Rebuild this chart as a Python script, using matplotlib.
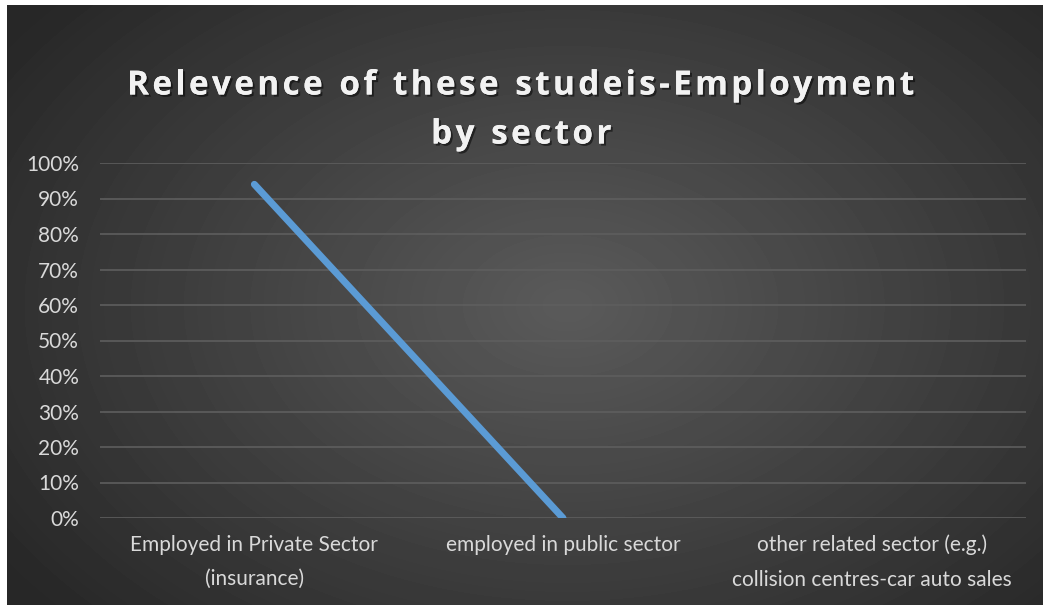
import numpy as np
import matplotlib.pyplot as plt
import matplotlib.patheffects as pe
from matplotlib.ticker import PercentFormatter

# данные
categories = ["Employed in Private Sector\n(insurance)",
              "employed in public sector",
              "other related sector (e.g.)\ncollision centres-car auto sales"]
share = [0.94, 0.0, np.nan]
y_ticks = [i / 10 for i in range(11)]

W, H = 1043, 605
fig = plt.figure(figsize=(W / 100, H / 100), dpi=100, facecolor="white")

# фон: радиальный градиент, белая полоска сверху и слева как в оригинале
bg = fig.add_axes([7 / W, 0, 1 - 7 / W, 1 - 5 / H])
bg.set_axis_off()
yy, xx = np.mgrid[0:600, 0:1036]
r = np.sqrt(((xx - 560) / 680.0) ** 2 + ((yy - 300) / 460.0) ** 2)
shade = 0.355 - 0.2 * np.clip(r, 0, 1)
bg.imshow(shade, cmap="gray", vmin=0, vmax=1, aspect="auto",
          extent=[0, 1, 0, 1], interpolation="bilinear")
bg.set_xlim(0, 1)
bg.set_ylim(0, 1)

ax = fig.add_axes([100 / W, 1 - 518 / H, 926 / W, 355 / H])
ax.patch.set_alpha(0)
x = np.arange(len(categories))
ax.plot(x, share, color="#5B9BD5", lw=5, solid_capstyle="round")

ax.set_xlim(-0.5, len(categories) - 0.5)
ax.set_ylim(0, 1)
ax.set_yticks(y_ticks)
ax.yaxis.set_major_formatter(PercentFormatter(1.0, decimals=0))
ax.set_xticks(x)
ax.set_xticklabels(categories)
ax.grid(axis="y", color="#5e5e5e", lw=1.2)
ax.set_axisbelow(True)
for s in ax.spines.values():
    s.set_visible(False)
ax.tick_params(length=0, colors="#d9d9d9", labelsize=15)
ax.tick_params(axis="y", pad=15)
ax.tick_params(axis="x", pad=12)
for lab in ax.get_xticklabels() + ax.get_yticklabels():
    lab.set_family(["Lato", "DejaVu Sans"])
    lab.set_linespacing(1.9)

shadow = [pe.withSimplePatchShadow(offset=(1.5, -1.5), shadow_rgbFace="black", alpha=0.5),
          pe.Normal()]
title_font = dict(ha="center", va="center", color="#f2f2f2", fontsize=24,
                  fontweight="bold", family=["Open Sans", "DejaVu Sans"], path_effects=shadow)
fig.text(0.5, 1 - 86 / H, "R e l e v e n c e  o f  t h e s e  s t u d e i s - E m p l o y m e n t"
         .replace("  ", "\u2002").replace(" ", "\u200a"), **title_font)
fig.text(0.5, 1 - 135 / H, "b y  s e c t o r".replace("  ", "\u2002").replace(" ", "\u200a"),
         **title_font)

fig.savefig("out.png", dpi=100, facecolor="white")
